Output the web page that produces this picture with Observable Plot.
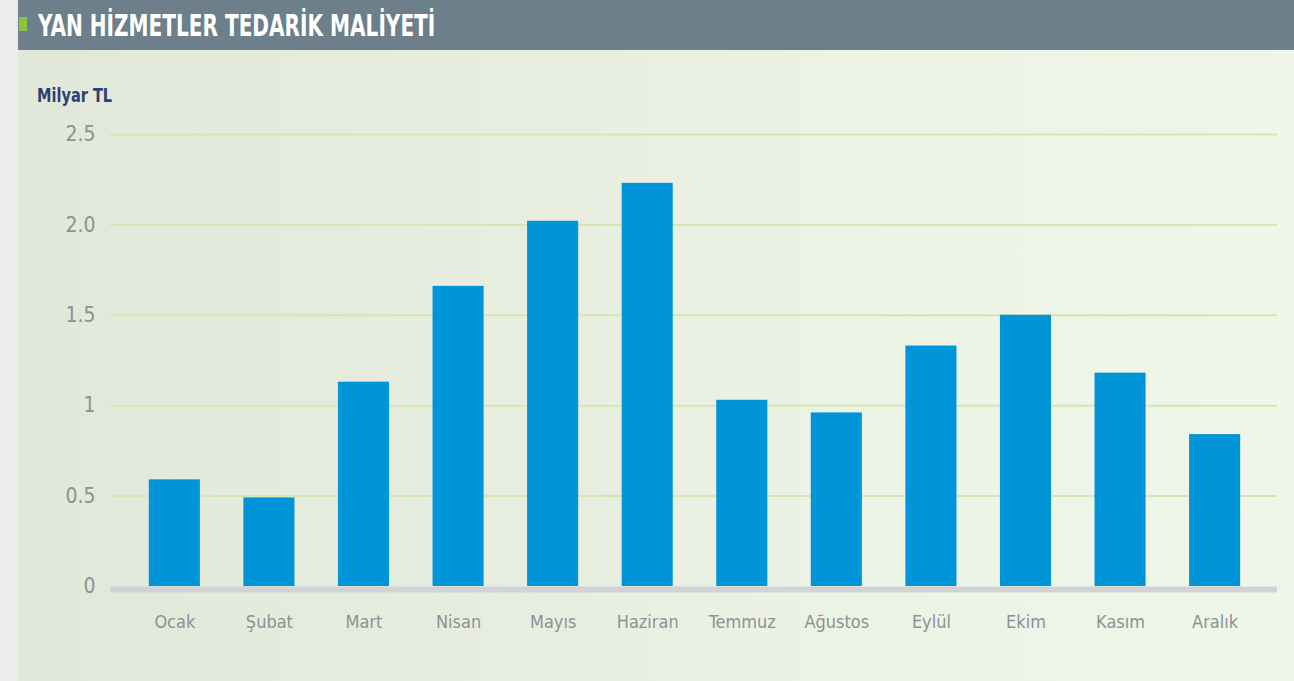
<!DOCTYPE html>
<html>
<head>
<meta charset="utf-8">
<script src="https://cdn.jsdelivr.net/npm/d3@7"></script>
<script src="https://cdn.jsdelivr.net/npm/@observablehq/plot@0.6"></script>
<style>
  html, body { margin: 0; padding: 0; }
  body { width: 1294px; height: 681px; overflow: hidden; background: #ececec; position: relative;
         font-family: "DejaVu Sans", sans-serif; font-stretch: condensed; }
  #panel { position: absolute; left: 18px; top: 0; width: 1276px; height: 681px;
           background: linear-gradient(90deg, #e1e7d9 0%, #e8eedf 40%, #edf3e5 70%, #eff5e8 100%); }
  #bar { position: absolute; left: 18px; top: 0; width: 1276px; height: 50px; background: #6d7f8a; }
  #sq { position: absolute; left: 19px; top: 17px; width: 8px; height: 14px; background: #8cc63f; }
  #title { position: absolute; left: 38px; top: 7px; color: #ffffff; font-weight: bold; font-size: 31px;
           white-space: nowrap; transform-origin: 0 0; transform: scaleX(0.72); }
  #unit { position: absolute; left: 37px; top: 84px; color: #2d3f73; font-weight: bold; font-size: 19px;
          transform-origin: 0 0; transform: scaleX(0.85); }
  #chart { position: absolute; left: 0; top: 50px; }
  #chart svg text { font-stretch: condensed; }
</style>
</head>
<body>
<div id="panel"></div>
<div id="bar"></div>
<div id="sq"></div>
<div id="title">YAN HİZMETLER TEDARİK MALİYETİ</div>
<div id="unit">Milyar TL</div>
<div id="chart"></div>
<script>
const months = ["Ocak", "Şubat", "Mart", "Nisan", "Mayıs", "Haziran", "Temmuz", "Ağustos", "Eylül", "Ekim", "Kasım", "Aralık"];
const values = [0.59, 0.49, 1.13, 1.66, 2.02, 2.23, 1.03, 0.96, 1.33, 1.50, 1.18, 0.84];
const yTicks = [0, 0.5, 1, 1.5, 2, 2.5];
const yTickLabels = ["0", "0.5", "1", "1.5", "2.0", "2.5"];

const data = months.map((m, i) => ({month: m, value: values[i]}));
const font = '"DejaVu Sans", sans-serif';

const chart = Plot.plot({
  width: 1294,
  height: 631,
  marginLeft: 110,
  marginRight: 17,
  marginTop: 84,
  marginBottom: 95,
  style: {background: "transparent", fontFamily: font},
  x: {domain: months, paddingInner: 0.46, paddingOuter: 0.40, align: 0.513, round: false, label: null},
  y: {domain: [0, 2.5], label: null},
  marks: [
    Plot.ruleY(yTicks.filter(d => d > 0), {stroke: "#d3e6b5", strokeWidth: 2}),
    Plot.barY(data, {x: "month", y: "value", fill: "#0095d9"}),
    Plot.ruleY([0], {stroke: "#d2d3d6", strokeWidth: 6, dy: 3}),
    Plot.axisY({ticks: yTicks, tickFormat: (d) => yTickLabels[yTicks.indexOf(d)], tickSize: 0, tickPadding: 15,
                fontSize: 21, fill: "#8e9194", label: null}),
    Plot.axisX({tickSize: 0, tickPadding: 29, fontSize: 18, fill: "#8e9194", label: null})
  ]
});
document.getElementById("chart").appendChild(chart);
</script>
</body>
</html>
